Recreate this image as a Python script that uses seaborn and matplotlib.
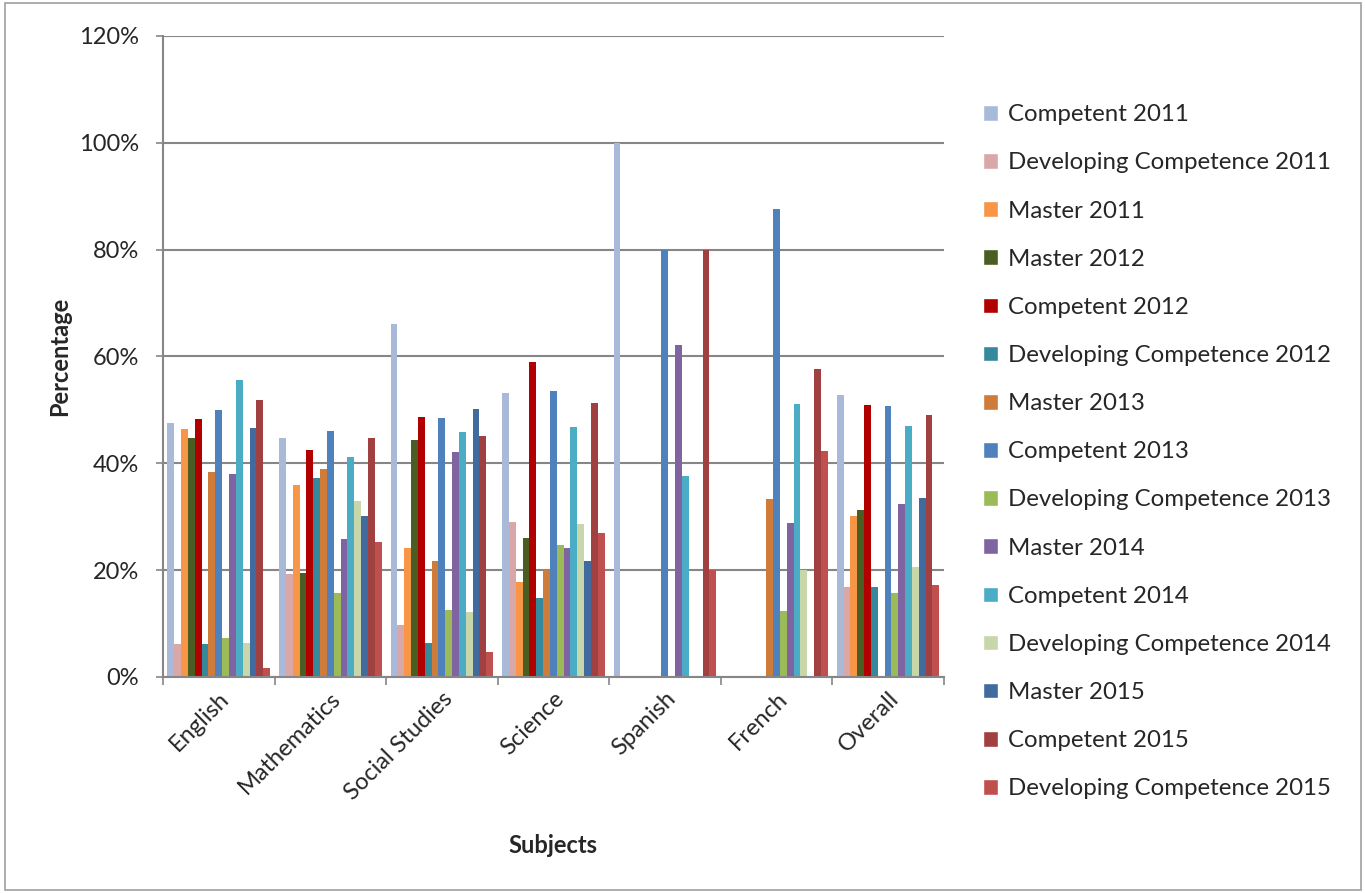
import numpy as np
import pandas as pd
import seaborn as sns
import matplotlib.pyplot as plt
from matplotlib.patches import Patch, Rectangle
from matplotlib.ticker import FixedLocator, PercentFormatter

subjects = ['English', 'Mathematics', 'Social Studies', 'Science', 'Spanish', 'French', 'Overall']

# values in percent, one list per series (same order as subjects)
competent_2011 = [47.5, 44.7, 66.0, 53.2, 100.0, 0, 52.8]
developing_2011 = [6.2, 19.3, 9.8, 29.0, 0, 0, 16.9]
master_2011 = [46.4, 36.0, 24.2, 17.7, 0, 0, 30.2]
master_2012 = [44.8, 19.5, 44.4, 26.0, 0, 0, 31.2]
competent_2012 = [48.3, 42.4, 48.7, 58.9, 0, 0, 50.9]
developing_2012 = [6.1, 37.3, 6.4, 14.7, 0, 0, 16.9]
master_2013 = [38.3, 39.0, 21.7, 20.1, 0, 33.4, 0]
competent_2013 = [50.0, 46.1, 48.5, 53.6, 80.0, 87.6, 50.7]
developing_2013 = [7.3, 15.7, 12.5, 24.8, 0, 12.4, 15.8]
master_2014 = [38.0, 25.8, 42.1, 24.2, 62.2, 28.9, 32.4]
competent_2014 = [55.6, 41.1, 45.8, 46.8, 37.7, 51.1, 46.9]
developing_2014 = [6.4, 33.0, 12.2, 28.7, 0, 20.0, 20.5]
master_2015 = [46.6, 30.1, 50.2, 21.8, 0, 0, 33.5]
competent_2015 = [51.8, 44.7, 45.1, 51.2, 80.0, 57.7, 49.0]
developing_2015 = [1.7, 25.3, 4.6, 27.0, 20.0, 42.3, 17.3]

series_names = ['Competent 2011', 'Developing Competence 2011', 'Master 2011',
                'Master 2012', 'Competent 2012', 'Developing Competence 2012',
                'Master 2013', 'Competent 2013', 'Developing Competence 2013',
                'Master 2014', 'Competent 2014', 'Developing Competence 2014',
                'Master 2015', 'Competent 2015', 'Developing Competence 2015']
series_values = [competent_2011, developing_2011, master_2011,
                 master_2012, competent_2012, developing_2012,
                 master_2013, competent_2013, developing_2013,
                 master_2014, competent_2014, developing_2014,
                 master_2015, competent_2015, developing_2015]
colors = ['#A9BAD9', '#D9A7A7', '#F79646',
          '#4A5E23', '#B00000', '#36889C',
          '#CF7B39', '#4F81BD', '#9BBB59',
          '#8064A2', '#4BACC6', '#C7D7AA',
          '#416A9E', '#A04040', '#C0504D']

rows = []
for name, vals in zip(series_names, series_values):
    for subj, v in zip(subjects, vals):
        rows.append({'Subject': subj, 'Series': name, 'Value': v})
df = pd.DataFrame(rows)

sns.set_style('white')
plt.rcParams['font.family'] = ['Lato', 'DejaVu Sans']

fig = plt.figure(figsize=(13.65, 8.93), dpi=100)
ax = fig.add_axes([0.1194, 0.2419, 0.572, 0.7178])

sns.barplot(data=df, x='Subject', y='Value', hue='Series', hue_order=series_names,
            order=subjects, palette=dict(zip(series_names, colors)), saturation=1,
            width=0.92, errorbar=None, legend=False, linewidth=0, ax=ax)

grid_c = '#868686'
ax.set_ylim(0, 120)
ax.set_xlim(-0.5, len(subjects) - 0.5)
ax.yaxis.set_major_locator(FixedLocator(np.arange(0, 121, 20)))
ax.yaxis.set_major_formatter(PercentFormatter(100, decimals=0))
ax.yaxis.grid(True, color=grid_c, linewidth=1.5)
ax.set_axisbelow(True)

for s in ['top', 'right']:
    ax.spines[s].set_visible(False)
for s in ['left', 'bottom']:
    ax.spines[s].set_color(grid_c)
    ax.spines[s].set_linewidth(1.5)

ax.tick_params(axis='y', length=5, width=1.2, color=grid_c, labelsize=17, pad=12, left=True)
ax.tick_params(axis='x', which='major', length=0, labelsize=17, pad=8)
ax.xaxis.set_minor_locator(FixedLocator(np.arange(-0.5, len(subjects), 1)))
ax.tick_params(axis='x', which='minor', length=6, width=1.2, color=grid_c, bottom=True)
plt.setp(ax.get_xticklabels(), rotation=45, ha='right', rotation_mode='anchor')

ax.set_ylabel('Percentage', fontsize=17, fontweight='bold', labelpad=6)
ax.set_xlabel('Subjects', fontsize=17, fontweight='bold', labelpad=22)

handles = [Patch(facecolor=c, label=n) for n, c in zip(series_names, colors)]
fig.legend(handles=handles, loc='upper left', bbox_to_anchor=(0.7132, 0.894),
           frameon=False, fontsize=17.3, handlelength=0.62, handleheight=0.62,
           handletextpad=0.42, labelspacing=1.13, borderaxespad=0)

fig.patches.append(Rectangle((0.004, 0.003), 0.993, 0.994, transform=fig.transFigure,
                             fill=False, edgecolor='#A0A0A0', linewidth=1.2))

fig.savefig('out.png', dpi=100)
